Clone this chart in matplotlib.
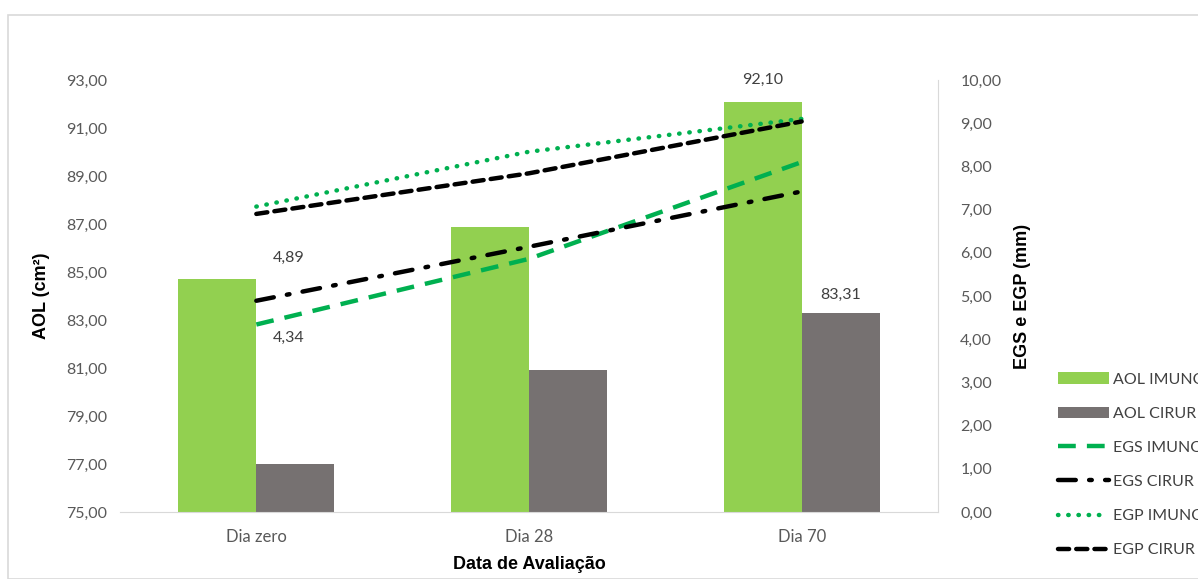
import numpy as np
import matplotlib.pyplot as plt
from matplotlib.patches import Rectangle

categorias = ['Dia zero', 'Dia 28', 'Dia 70']
aol_imuno = [84.70, 86.88, 92.10]
aol_cirur = [76.98, 80.92, 83.31]
egs_imuno = [4.34, 5.86, 8.10]
egs_cirur = [4.89, 6.14, 7.42]
egp_imuno = [7.07, 8.34, 9.10]
egp_cirur = [6.90, 7.84, 9.04]

verde = '#92D050'
cinza = '#767171'
verde_linha = '#00B050'
cor_tick = '#595959'
fonte = ['Lato', 'DejaVu Sans']

fig = plt.figure(figsize=(11.98, 5.79), dpi=100)
fig.patches.append(Rectangle((8/1198, 0), 1.0, 1 - 15/579, transform=fig.transFigure,
                             fill=False, edgecolor='#D9D9D9', linewidth=1.2))

ax = fig.add_axes([120/1198, 67/579, 818/1198, 432/579])
x = np.arange(len(categorias))
w = 0.286
b1 = ax.bar(x - w/2, np.array(aol_imuno) - 75, w, bottom=75, color=verde, label='AOL IMUNO')
b2 = ax.bar(x + w/2, np.array(aol_cirur) - 75, w, bottom=75, color=cinza, label='AOL CIRUR')
ax.set_ylim(75, 93)
ax.set_xlim(-0.5, 2.5)
ax.set_yticks(np.arange(75, 94, 2))
ax.set_yticklabels([f'{v:.2f}'.replace('.', ',') for v in np.arange(75, 94, 2)],
                   family=fonte, fontsize=11.5, color=cor_tick)
ax.set_xticks(x)
ax.set_xticklabels(categorias, family=fonte, fontsize=12, color=cor_tick)
ax.tick_params(axis='x', length=0, pad=12)
ax.tick_params(axis='y', length=0, pad=9)
for s in ['top', 'left', 'right']:
    ax.spines[s].set_visible(False)
ax.spines['bottom'].set_color('#D9D9D9')
ax.set_ylabel('AOL (cm²)', fontsize=13, fontweight='bold', family='Liberation Sans', labelpad=12)
ax.set_xlabel('Data de Avaliação', fontsize=13, fontweight='bold', family='Liberation Sans', labelpad=8)

ax2 = ax.twinx()
ax2.set_ylim(0, 10)
ax2.set_yticks(np.arange(0, 11, 1))
ax2.set_yticklabels([f'{v:.2f}'.replace('.', ',') for v in np.arange(0, 11, 1)],
                    family=fonte, fontsize=11.5, color=cor_tick)
ax2.tick_params(length=0, pad=16)
for s in ['top', 'left', 'bottom']:
    ax2.spines[s].set_visible(False)
ax2.spines['right'].set_color('#D9D9D9')
ax2.set_ylabel('EGS e EGP (mm)', fontsize=13, fontweight='bold', family='Liberation Sans', labelpad=9)

l1, = ax2.plot(x, egs_imuno, color=verde_linha, lw=3.2, dashes=(4, 2.5), label='EGS IMUNO')
l2, = ax2.plot(x, egs_cirur, color='black', lw=3.2, dashes=(4, 3, 0.6, 3), label='EGS CIRUR',
               dash_capstyle='round')
l3, = ax2.plot(x, egp_imuno, color=verde_linha, lw=3.2, dashes=(0.1, 2.2), label='EGP IMUNO',
               dash_capstyle='round')
l4, = ax2.plot(x, egp_cirur, color='black', lw=3.2, dashes=(2.5, 1.6), label='EGP CIRUR',
               dash_capstyle='round')

kw = dict(family=fonte, fontsize=11.5, color='#404040', ha='center', va='center')
ax2.text(x[0] + 0.12, egs_cirur[0] + 1.0, '4,89', **kw)
ax2.text(x[0] + 0.12, egs_imuno[0] - 0.3, '4,34', **kw)
ax.text(x[2] - w/2, aol_imuno[2] + 0.9, '92,10', **kw)
ax.text(x[2] + w/2, aol_cirur[2] + 0.75, '83,31', **kw)

leg = fig.legend(handles=[b1, b2, l1, l2, l3, l4], loc='upper left',
                 bbox_to_anchor=(1044/1198, 1 - 358/579), frameon=False,
                 prop={'family': fonte, 'size': 11.5}, labelspacing=1.25,
                 handlelength=3.2, handletextpad=0.2)
for t in leg.get_texts():
    t.set_color('#404040')

fig.savefig('out.png', dpi=100)
